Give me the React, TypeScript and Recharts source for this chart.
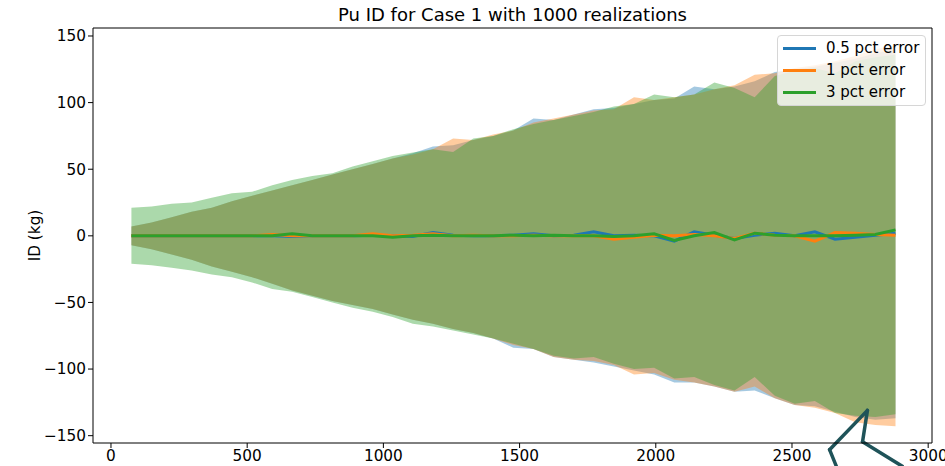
import React from 'react';
import { ComposedChart, Area, Line, XAxis, YAxis, ReferenceLine } from 'recharts';

const X_VALUES = [75, 149, 223, 296, 370, 444, 518, 592, 665, 739, 813, 887, 961, 1034, 1108, 1182, 1256, 1330, 1403, 1477, 1551, 1625, 1699, 1772, 1846, 1920, 1994, 2068, 2141, 2215, 2289, 2363, 2437, 2510, 2584, 2658, 2732, 2806, 2880];

const blueMean = [0, 0, 0, 0, 0, 0, 0, 0, -0.5, 0, 0, 0, 0.5, 0, -0.5, 2.5, 0.5, 0, 0, 0.5, 1.5, 0, 0.5, 3, 0, 0.5, 0, -4, 3, 0.5, -2, 0.5, 2, 0, 3, -2.5, -1, 0.5, 2];
const orangeMean = [0, 0, 0, 0, 0, 0, 0, 1, 0, 0, 0, 0, 1.5, 0, 0.5, 1.5, 0, 0.5, 0, 0, 0.5, 0, 0, 0, -2.5, -1, 0.5, 0, 1, 0, -2, 2, 0.5, 0, -4, 2.5, 2, 1, 0.5];
const greenMean = [0, 0, 0, 0, 0, 0, 0, 0, 1.5, 0, 0, 0, 0, -1, 0, 0.5, 0, 0, 0, 0.5, 0, 0.5, 0, 0, -0.5, 0, 1.5, -3.5, 0, 2.5, -3, 2, 0.5, 0, 0, 0, 0.5, 1, 4.5];

const blueHigh = [7, 10, 14, 18, 21, 26, 30, 34, 38, 42, 46, 50, 54, 58, 62, 67, 68, 72, 75, 79, 88, 87, 91, 95, 96, 99, 102, 103, 112, 110, 112, 116, 123, 125, 127, 130, 133, 137, 140];
const orangeHigh = [7, 10, 14, 18, 21, 26, 30, 34, 38, 42, 46, 50, 54, 58, 61, 65, 73, 72, 76, 79, 85, 88, 91, 94, 95, 104, 102, 104, 106, 110, 113, 121, 122, 126, 128, 131, 135, 140, 143];
const greenHigh = [21, 22, 24, 25, 28.5, 32, 33, 38, 42, 45, 47, 52, 56, 60, 62.5, 65, 63, 73, 75, 80, 84, 87, 90, 93, 97, 99, 106, 104, 106, 115, 111, 104, 120, 124, 126, 122, 131, 134, 136];

const blueLow = [-7, -10, -14, -18, -23, -27, -31, -36, -41, -45, -49, -52, -55, -59, -63, -66, -70, -73, -77, -84, -85, -91, -93, -95, -98, -101, -104, -110, -110, -113, -117, -116, -122, -127, -128, -132, -136, -138, -137];
const orangeLow = [-7, -10, -14, -18, -23, -27, -31, -36, -41, -45, -49, -52, -55, -59, -63, -66, -70, -73, -77, -82, -85, -91, -93, -94, -97, -104, -103, -108, -110, -113, -117, -113, -122, -127, -129, -133, -140, -142, -143];
const greenLow = [-21, -22, -24, -26, -29, -31, -35, -40, -42, -46, -50, -54, -57, -61, -66, -68, -71, -74, -77, -81, -85, -90, -92, -91, -96, -100, -99, -107, -106, -112, -116, -106, -120, -126, -124, -133, -135, -136, -134];

const SERIES_NAMES = ['0.5 pct error', '1 pct error', '3 pct error'];
const SERIES_COLORS = ['#1f77b4', '#ff7f0e', '#2ca02c'];
const X_TICKS = [0, 500, 1000, 1500, 2000, 2500, 3000];
const Y_TICKS = [-150, -100, -50, 0, 50, 100, 150];
const X_DOMAIN = [-66, 3014];
const Y_DOMAIN = [-155.5, 156];
const TITLE = 'Pu ID for Case 1 with 1000 realizations';
const Y_LABEL = 'ID (kg)';

// annotation callout (data coordinates)
const CALLOUT = [
  { x: 2663, y: -173 },
  { x: 2638, y: -160.5 },
  { x: 2777, y: -131 },
  { x: 2759, y: -154.5 },
  { x: 2905, y: -173 },
];

const rows = X_VALUES.map((x, i) => ({
  x,
  band0: [blueLow[i], blueHigh[i]],
  band1: [orangeLow[i], orangeHigh[i]],
  band2: [greenLow[i], greenHigh[i]],
  mean0: blueMean[i],
  mean1: orangeMean[i],
  mean2: greenMean[i],
}));

const FONT = '"DejaVu Sans", sans-serif';
const TICK_FS = 15.3;
const fmt = (v: number) => String(v).replace('-', '\u2212');

const YLabel = (props: any) => {
  const vb = props.viewBox || {};
  const cx = 35;
  const cy = (vb.y || 0) + (vb.height || 0) / 2;
  return (
    <text x={cx} y={cy} transform={`rotate(-90, ${cx}, ${cy})`} textAnchor="middle" dominantBaseline="central" fontFamily={FONT} fontSize={TICK_FS} fill="#000">
      {Y_LABEL}
    </text>
  );
};

export default function App() {
  return (
    <div style={{ position: 'absolute', left: 0, top: 0, width: 945, height: 466, background: '#fff', overflow: 'hidden' }}>
      <div style={{ position: 'absolute', left: 93, width: 839, top: 3, height: 24, lineHeight: '24px', textAlign: 'center', fontFamily: FONT, fontSize: 18, color: '#000', whiteSpace: 'nowrap' }}>
        {TITLE}
      </div>
      <ComposedChart width={945} height={466} data={rows} margin={{ top: 28, right: 13, bottom: 0, left: 0 }}>
        <XAxis
          dataKey="x"
          type="number"
          domain={X_DOMAIN}
          ticks={X_TICKS}
          allowDataOverflow
          interval={0}
          height={23}
          tickSize={5}
          tickMargin={2}
          tick={{ fontSize: TICK_FS, fill: '#000', fontFamily: FONT }}
          tickLine={{ stroke: '#000' }}
          axisLine={{ stroke: '#000' }}
          tickFormatter={fmt}
        />
        <YAxis
          type="number"
          domain={Y_DOMAIN}
          ticks={Y_TICKS}
          allowDataOverflow
          interval={0}
          width={93}
          tickSize={5}
          tickMargin={2}
          tick={{ fontSize: TICK_FS, fill: '#000', fontFamily: FONT }}
          tickLine={{ stroke: '#000' }}
          axisLine={{ stroke: '#000' }}
          tickFormatter={fmt}
          label={<YLabel />}
        />
        {SERIES_NAMES.map((name, i) => (
          <Area
            key={'a' + i}
            dataKey={'band' + i}
            type="linear"
            fill={SERIES_COLORS[i]}
            fillOpacity={0.4}
            stroke="none"
            isAnimationActive={false}
            legendType="none"
            name={name + ' band'}
            activeDot={false}
            dot={false}
          />
        ))}
        {SERIES_NAMES.map((name, i) => (
          <Line
            key={'l' + i}
            dataKey={'mean' + i}
            type="linear"
            stroke={SERIES_COLORS[i]}
            strokeWidth={3}
            dot={false}
            activeDot={false}
            isAnimationActive={false}
            name={name}
          />
        ))}
        <ReferenceLine y={Y_DOMAIN[1]} stroke="#000" strokeWidth={1} ifOverflow="visible" />
        <ReferenceLine x={X_DOMAIN[1]} stroke="#000" strokeWidth={1} ifOverflow="visible" />
        {CALLOUT.slice(1).map((p, i) => (
          <ReferenceLine
            key={'c' + i}
            segment={[CALLOUT[i], p]}
            stroke="#1f5359"
            strokeWidth={3.5}
            strokeLinecap="round"
            ifOverflow="visible"
          />
        ))}
      </ComposedChart>
      <div style={{ position: 'absolute', left: 777, top: 35, width: 147, height: 69, border: '1px solid #d6d6d6', borderRadius: 4, background: 'rgba(255,255,255,0.8)', fontFamily: FONT, fontSize: 15, color: '#000' }}>
        {SERIES_NAMES.map((name, i) => (
          <div key={name} style={{ position: 'absolute', left: 0, top: 1 + i * 22, height: 22, width: 147, display: 'flex', alignItems: 'center' }}>
            <div style={{ marginLeft: 5, width: 33, height: 3, background: SERIES_COLORS[i] }} />
            <span style={{ marginLeft: 10, whiteSpace: 'nowrap' }}>{name}</span>
          </div>
        ))}
      </div>
    </div>
  );
}
